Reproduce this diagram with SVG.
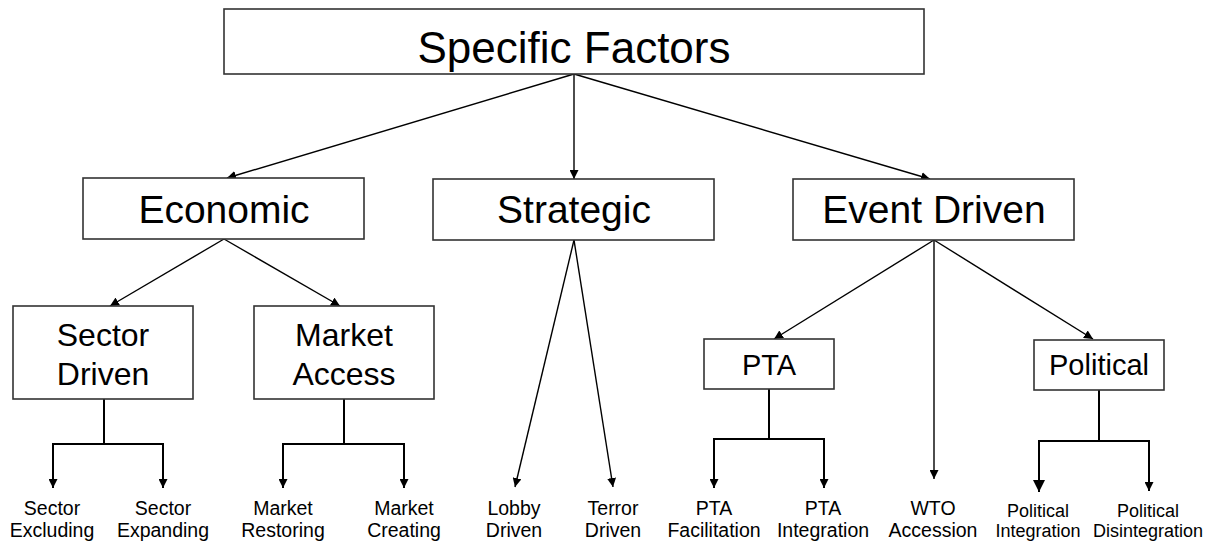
<svg xmlns="http://www.w3.org/2000/svg" width="1209" height="543" viewBox="0 0 1209 543">
<style>
.box{fill:#fff;stroke:#333;stroke-width:1.6}
.t{font-family:"Liberation Sans",Arial,sans-serif;fill:#000;text-anchor:middle}
.s{font-size:19.5px}
.p{font-size:18px}
.ln{fill:none;stroke:#000;stroke-width:1.4}
.br{fill:none;stroke:#000;stroke-width:2}
</style>
<defs>
<marker id="ah" viewBox="0 0 10 10" refX="10" refY="5" markerWidth="9" markerHeight="9" markerUnits="userSpaceOnUse" orient="auto"><path d="M0,0L10,5L0,10z" fill="#000"/></marker>
<marker id="ahb" viewBox="0 0 10 10" refX="10" refY="5" markerWidth="12" markerHeight="12" markerUnits="userSpaceOnUse" orient="auto"><path d="M0,0L10,5L0,10z" fill="#000"/></marker>
</defs>
<rect width="1209" height="543" fill="#fff"/>
<g id="connectors">
<line class="ln" x1="574" y1="74" x2="227" y2="178" marker-end="url(#ah)"/>
<line class="ln" x1="574" y1="74" x2="574" y2="179" marker-end="url(#ah)"/>
<line class="ln" x1="574" y1="74" x2="930" y2="179" marker-end="url(#ah)"/>
<line class="ln" x1="224" y1="239" x2="110" y2="306" marker-end="url(#ah)"/>
<line class="ln" x1="224" y1="239" x2="340" y2="306" marker-end="url(#ah)"/>
<line class="ln" x1="574" y1="240" x2="515" y2="487" marker-end="url(#ah)"/>
<line class="ln" x1="574" y1="240" x2="613" y2="487" marker-end="url(#ah)"/>
<line class="ln" x1="934" y1="240" x2="774" y2="339" marker-end="url(#ah)"/>
<line class="ln" x1="934" y1="240" x2="934" y2="479" marker-end="url(#ah)"/>
<line class="ln" x1="934" y1="240" x2="1093" y2="339" marker-end="url(#ah)"/>
<path class="br" d="M104,399V444M53,488V444H163V488"/>
<line class="br" x1="53" y1="470" x2="53" y2="488" marker-end="url(#ah)"/>
<line class="br" x1="163" y1="470" x2="163" y2="488" marker-end="url(#ah)"/>
<path class="br" d="M344,399V444M283,488V444H404V488"/>
<line class="br" x1="283" y1="470" x2="283" y2="488" marker-end="url(#ah)"/>
<line class="br" x1="404" y1="470" x2="404" y2="488" marker-end="url(#ah)"/>
<path class="br" d="M769,389V439M714,488V439H824V488"/>
<line class="br" x1="714" y1="470" x2="714" y2="488" marker-end="url(#ah)"/>
<line class="br" x1="824" y1="470" x2="824" y2="488" marker-end="url(#ah)"/>
<path class="br" d="M1099,389V441M1039,491V441H1149V491"/>
<line class="br" x1="1039" y1="470" x2="1039" y2="492" marker-end="url(#ahb)"/>
<line class="br" x1="1149" y1="470" x2="1149" y2="491" marker-end="url(#ah)"/>
</g>
<g id="specific-factors"><rect class="box" x="224" y="9" width="700" height="65"/><text class="t" x="574" y="63" font-size="44">Specific Factors</text></g>
<g id="economic"><rect class="box" x="83" y="178" width="281" height="61"/><text class="t" x="224" y="223" font-size="39">Economic</text></g>
<g id="strategic"><rect class="box" x="433" y="179" width="281" height="61"/><text class="t" x="574" y="223" font-size="39">Strategic</text></g>
<g id="event-driven"><rect class="box" x="793" y="179" width="281" height="61"/><text class="t" x="934" y="223" font-size="39">Event Driven</text></g>
<g id="sector-driven"><rect class="box" x="13" y="306" width="180" height="93"/><text class="t" x="103" y="346" font-size="32">Sector</text><text class="t" x="103" y="385" font-size="32">Driven</text></g>
<g id="market-access"><rect class="box" x="254" y="306" width="180" height="93"/><text class="t" x="344" y="346" font-size="32">Market</text><text class="t" x="344" y="385" font-size="32">Access</text></g>
<g id="pta"><rect class="box" x="704" y="339" width="130" height="50"/><text class="t" x="769" y="375" font-size="29">PTA</text></g>
<g id="political"><rect class="box" x="1034" y="340" width="130" height="50"/><text class="t" x="1099" y="375" font-size="29">Political</text></g>
<g id="sector-excluding"><text class="t s" x="52" y="515">Sector</text><text class="t s" x="52" y="537">Excluding</text></g>
<g id="sector-expanding"><text class="t s" x="163" y="515">Sector</text><text class="t s" x="163" y="537">Expanding</text></g>
<g id="market-restoring"><text class="t s" x="283" y="515">Market</text><text class="t s" x="283" y="537">Restoring</text></g>
<g id="market-creating"><text class="t s" x="404" y="515">Market</text><text class="t s" x="404" y="537">Creating</text></g>
<g id="lobby-driven"><text class="t s" x="514" y="515">Lobby</text><text class="t s" x="514" y="537">Driven</text></g>
<g id="terror-driven"><text class="t s" x="613" y="515">Terror</text><text class="t s" x="613" y="537">Driven</text></g>
<g id="pta-facilitation"><text class="t s" x="714" y="515">PTA</text><text class="t s" x="714" y="537">Facilitation</text></g>
<g id="pta-integration"><text class="t s" x="823" y="515">PTA</text><text class="t s" x="823" y="537">Integration</text></g>
<g id="wto-accession"><text class="t s" x="933" y="515">WTO</text><text class="t s" x="933" y="537">Accession</text></g>
<g id="political-integration"><text class="t p" x="1038" y="516.5">Political</text><text class="t p" x="1038" y="536.5">Integration</text></g>
<g id="political-disintegration"><text class="t p" x="1148" y="516.5">Political</text><text class="t p" x="1148" y="536.5">Disintegration</text></g>
</svg>
